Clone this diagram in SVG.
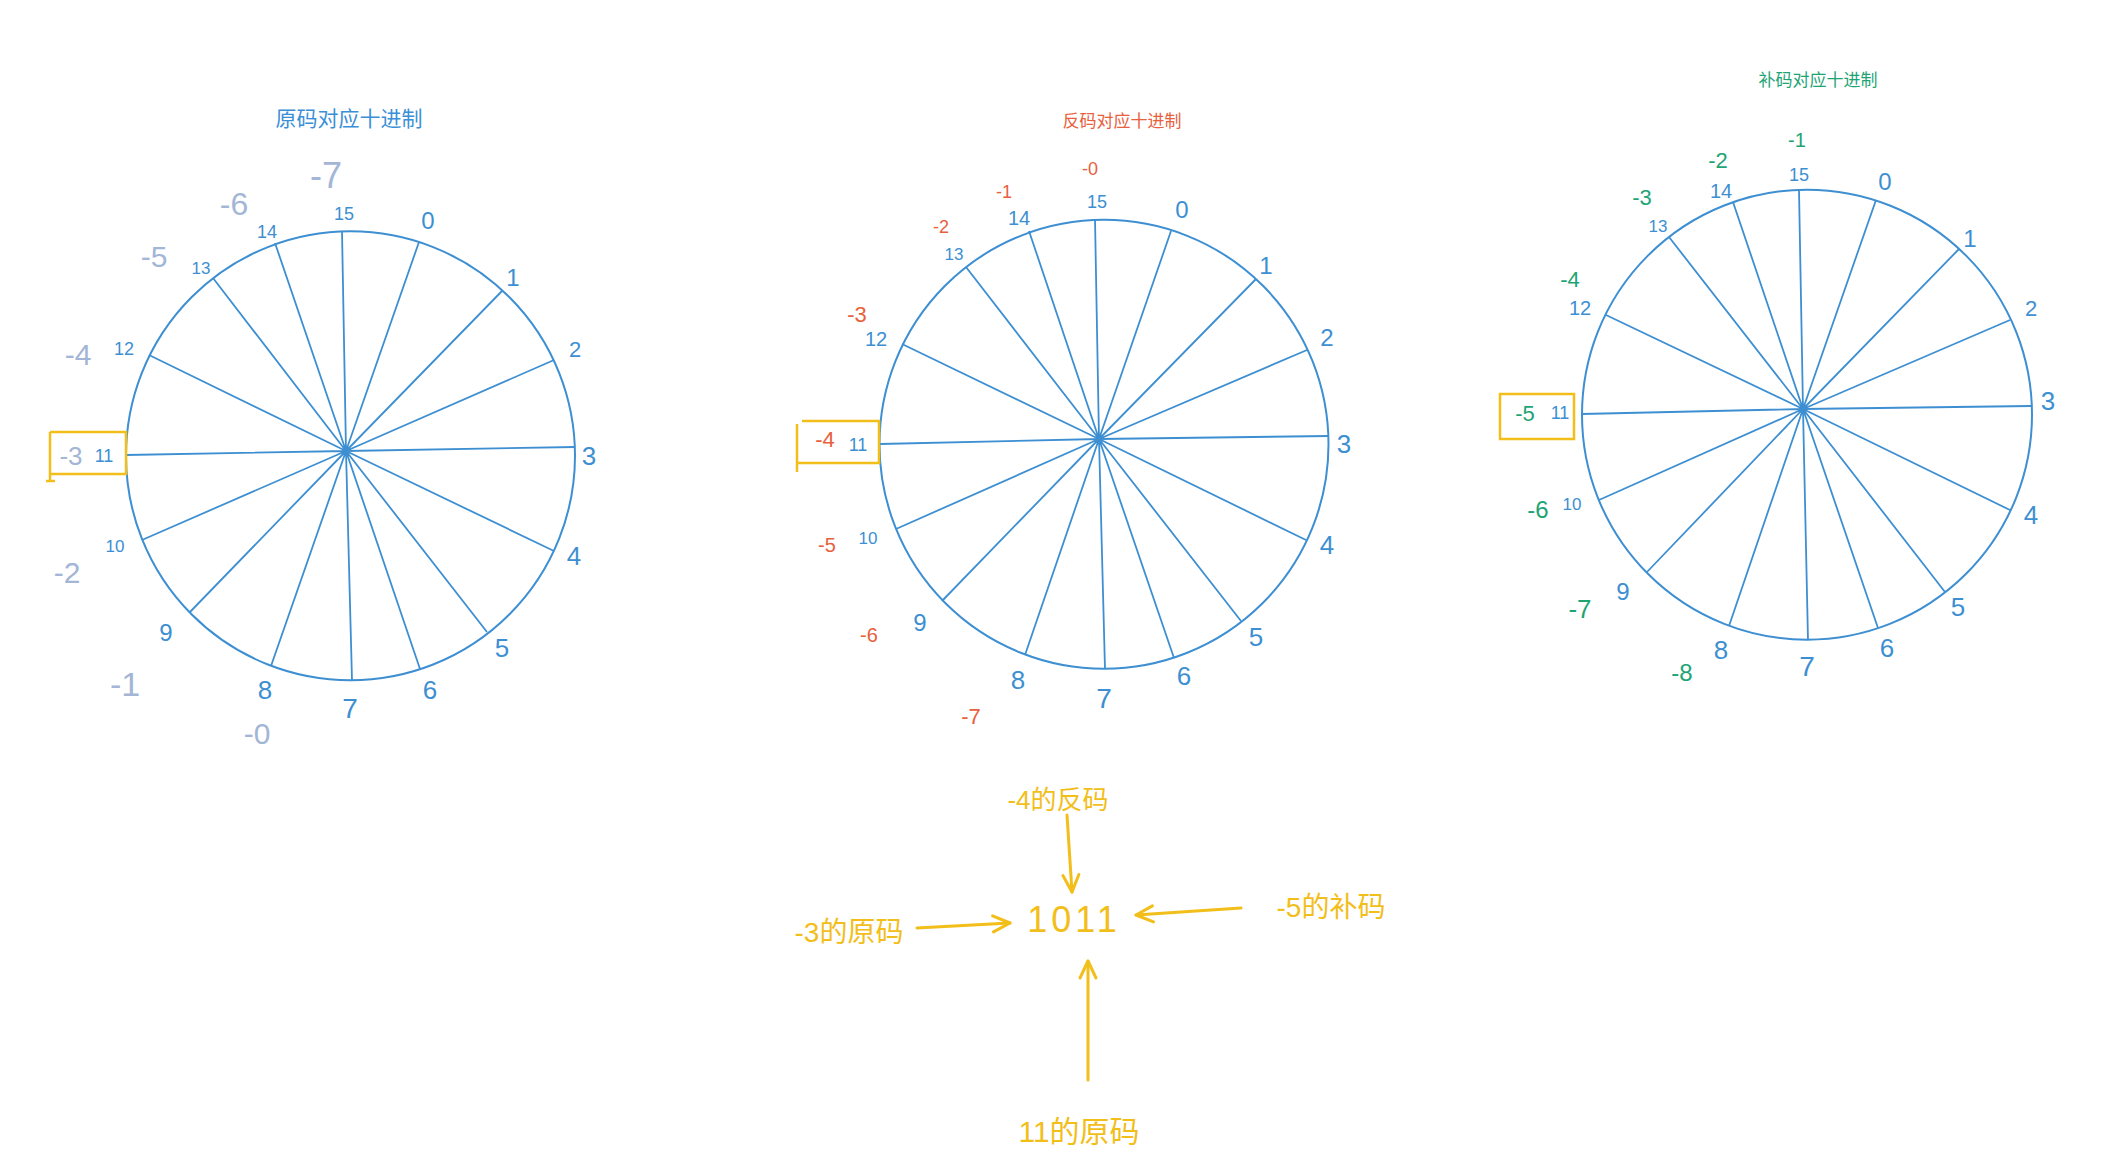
<svg xmlns="http://www.w3.org/2000/svg" width="2106" height="1174" viewBox="0 0 2106 1174">
<style>
text{font-family:"Liberation Sans","Noto Sans CJK SC",sans-serif;text-anchor:middle;dominant-baseline:central}
.ring{fill:none;stroke:#3d8fd2;stroke-width:2}
.spoke{stroke:#3d8fd2;stroke-width:1.8;fill:none}
.num{fill:#3d8fd2}
.neg1{fill:#a3b6d6}
.neg2{fill:#e8603c}
.neg3{fill:#1ea474}
.box{fill:none;stroke:#f2be1a;stroke-width:2.5}
.ylw{fill:#f2be1a}
.arrow{stroke:#f2be1a;stroke-width:3;fill:none;stroke-linecap:round}
</style>
<defs>
<marker id="vhead" viewBox="0 0 22 22" refX="19" refY="11" markerWidth="22" markerHeight="22" markerUnits="userSpaceOnUse" orient="auto">
<path d="M2,3 L19,11 L2,19" fill="none" stroke="#f2be1a" stroke-width="3" stroke-linecap="round" stroke-linejoin="round"/>
</marker>
</defs>
<rect width="2106" height="1174" fill="#ffffff"/>

<g id="wheel-original">
<text x="349" y="118" font-size="21" fill="#3b8fd6">原码对应十进制</text>
<circle class="ring" cx="350.5" cy="455.8" r="224.5"/>
<path class="spoke" d="M342,231L346,451M419,242L346,451M502,291L346,451M554,360L346,451M575,447L346,451M554,551L346,451M487,632L346,451M420,669L346,451M352,680L346,451M271,666L346,451M190,612L346,451M142,540L346,451M126,455L346,451M149,355L346,451M213,278L346,451M275,243L346,451"/>
<text class="num" x="344" y="214" font-size="18">15</text>
<text class="num" x="428" y="220" font-size="24">0</text>
<text class="num" x="513" y="277" font-size="24">1</text>
<text class="num" x="575" y="349" font-size="22">2</text>
<text class="num" x="589" y="456" font-size="26">3</text>
<text class="num" x="574" y="556" font-size="26">4</text>
<text class="num" x="502" y="648" font-size="26">5</text>
<text class="num" x="430" y="690" font-size="26">6</text>
<text class="num" x="350" y="708" font-size="28">7</text>
<text class="num" x="265" y="690" font-size="26">8</text>
<text class="num" x="166" y="632" font-size="24">9</text>
<text class="num" x="115" y="546" font-size="17">10</text>
<text class="num" x="104" y="456" font-size="18">11</text>
<text class="num" x="124" y="349" font-size="18">12</text>
<text class="num" x="201" y="268" font-size="17">13</text>
<text class="num" x="267" y="232" font-size="18">14</text>
<text class="neg1" x="326" y="175" font-size="36">-7</text>
<text class="neg1" x="234" y="204" font-size="32">-6</text>
<text class="neg1" x="154" y="256" font-size="30">-5</text>
<text class="neg1" x="78" y="354" font-size="30">-4</text>
<text class="neg1" x="71" y="456" font-size="26">-3</text>
<text class="neg1" x="67" y="572" font-size="30">-2</text>
<text class="neg1" x="125" y="684" font-size="34">-1</text>
<text class="neg1" x="257" y="733" font-size="30">-0</text>
<path class="box" d="M50,432H126V474H50M50,432V482M46,481H55"/>
</g>

<g id="wheel-ones-complement">
<text x="1122" y="121" font-size="17" fill="#e8603c">反码对应十进制</text>
<circle class="ring" cx="1104" cy="444.3" r="224.5"/>
<path class="spoke" d="M1095,219L1099,439M1171,231L1099,439M1256,279L1099,439M1307,350L1099,439M1329,436L1099,439M1306,540L1099,439M1241,621L1099,439M1174,658L1099,439M1105,669L1099,439M1025,655L1099,439M942,601L1099,439M896,529L1099,439M880,444L1099,439M902,344L1099,439M966,267L1099,439M1029,231L1099,439"/>
<text class="num" x="1097" y="202" font-size="18">15</text>
<text class="num" x="1182" y="209" font-size="24">0</text>
<text class="num" x="1266" y="265" font-size="24">1</text>
<text class="num" x="1327" y="337" font-size="24">2</text>
<text class="num" x="1344" y="444" font-size="26">3</text>
<text class="num" x="1327" y="545" font-size="26">4</text>
<text class="num" x="1256" y="637" font-size="26">5</text>
<text class="num" x="1184" y="676" font-size="26">6</text>
<text class="num" x="1104" y="698" font-size="28">7</text>
<text class="num" x="1018" y="680" font-size="26">8</text>
<text class="num" x="920" y="622" font-size="24">9</text>
<text class="num" x="868" y="538" font-size="17">10</text>
<text class="num" x="858" y="445" font-size="18">11</text>
<text class="num" x="876" y="339" font-size="20">12</text>
<text class="num" x="954" y="254" font-size="17">13</text>
<text class="num" x="1019" y="218" font-size="20">14</text>
<text class="neg2" x="1090" y="169" font-size="18">-0</text>
<text class="neg2" x="1004" y="192" font-size="18">-1</text>
<text class="neg2" x="941" y="227" font-size="18">-2</text>
<text class="neg2" x="857" y="314" font-size="22">-3</text>
<text class="neg2" x="825" y="439" font-size="22">-4</text>
<text class="neg2" x="827" y="545" font-size="20">-5</text>
<text class="neg2" x="869" y="635" font-size="20">-6</text>
<text class="neg2" x="971" y="716" font-size="22">-7</text>
<path class="box" d="M802,421H879V463H797M797,424V472"/>
</g>

<g id="wheel-twos-complement">
<text x="1818" y="80" font-size="17" fill="#1ea474">补码对应十进制</text>
<circle class="ring" cx="1807" cy="414.7" r="225"/>
<path class="spoke" d="M1799,190L1803,409M1876,200L1803,409M1959,249L1803,409M2010,320L1803,409M2031,406L1803,409M2010,510L1803,409M1945,592L1803,409M1878,628L1803,409M1808,640L1803,409M1729,626L1803,409M1647,572L1803,409M1599,500L1803,409M1582,414L1803,409M1606,315L1803,409M1669,237L1803,409M1733,202L1803,409"/>
<text class="num" x="1799" y="175" font-size="18">15</text>
<text class="num" x="1885" y="181" font-size="24">0</text>
<text class="num" x="1970" y="238" font-size="24">1</text>
<text class="num" x="2031" y="308" font-size="22">2</text>
<text class="num" x="2048" y="401" font-size="26">3</text>
<text class="num" x="2031" y="515" font-size="26">4</text>
<text class="num" x="1958" y="607" font-size="26">5</text>
<text class="num" x="1887" y="648" font-size="26">6</text>
<text class="num" x="1807" y="666" font-size="28">7</text>
<text class="num" x="1721" y="650" font-size="26">8</text>
<text class="num" x="1623" y="591" font-size="24">9</text>
<text class="num" x="1572" y="504" font-size="17">10</text>
<text class="num" x="1560" y="413" font-size="18">11</text>
<text class="num" x="1580" y="308" font-size="20">12</text>
<text class="num" x="1658" y="226" font-size="17">13</text>
<text class="num" x="1721" y="191" font-size="20">14</text>
<text class="neg3" x="1797" y="140" font-size="20">-1</text>
<text class="neg3" x="1718" y="160" font-size="22">-2</text>
<text class="neg3" x="1642" y="197" font-size="22">-3</text>
<text class="neg3" x="1570" y="279" font-size="22">-4</text>
<text class="neg3" x="1525" y="413" font-size="22">-5</text>
<text class="neg3" x="1538" y="509" font-size="24">-6</text>
<text class="neg3" x="1580" y="609" font-size="26">-7</text>
<text class="neg3" x="1682" y="672" font-size="24">-8</text>
<rect class="box" x="1500" y="394" width="74" height="45"/>
</g>

<g id="node-1011"><text class="ylw" x="1074" y="919" font-size="36" letter-spacing="4">1011</text></g>
<g id="node-neg4-ones"><text class="ylw" x="1058" y="800" font-size="26">-4的反码</text></g>
<g id="node-neg3-sign"><text class="ylw" x="849" y="932" font-size="28">-3的原码</text></g>
<g id="node-neg5-twos"><text class="ylw" x="1331" y="907" font-size="28">-5的补码</text></g>
<g id="node-11-sign"><text class="ylw" x="1079" y="1131" font-size="30">11的原码</text></g>

<g id="connectors">
<line class="arrow" x1="1067" y1="815" x2="1072" y2="892" marker-end="url(#vhead)"/>
<line class="arrow" x1="917" y1="928" x2="1010" y2="923" marker-end="url(#vhead)"/>
<line class="arrow" x1="1241" y1="908" x2="1136" y2="915" marker-end="url(#vhead)"/>
<line class="arrow" x1="1088" y1="1080" x2="1088" y2="961" marker-end="url(#vhead)"/>
</g>
</svg>
